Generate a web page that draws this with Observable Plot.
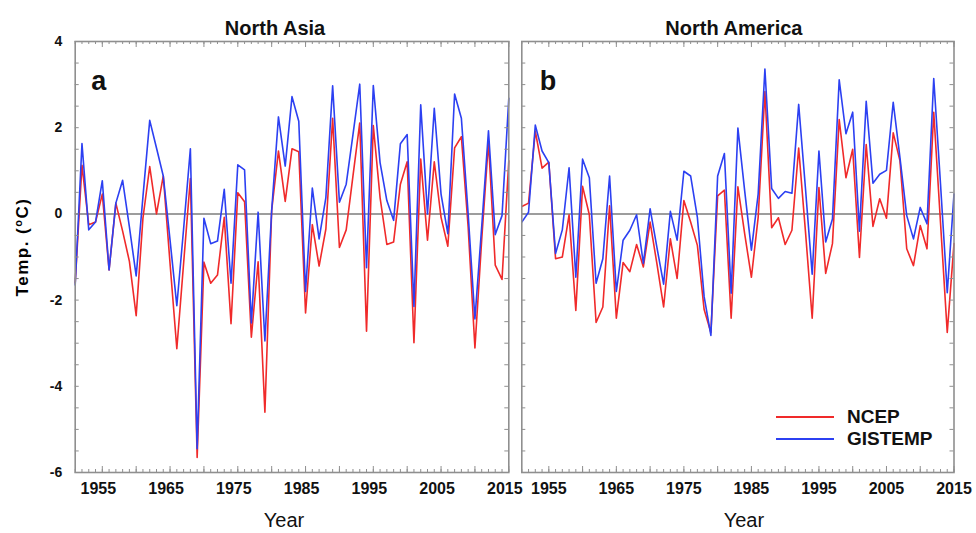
<!DOCTYPE html>
<html>
<head>
<meta charset="utf-8">
<script src="https://cdn.jsdelivr.net/npm/d3@7"></script>
<script src="https://cdn.jsdelivr.net/npm/@observablehq/plot@0.6"></script>
<style>
  html, body { margin: 0; padding: 0; background: #fff; }
  #wrap { position: relative; width: 976px; height: 533px; font-family: "Liberation Sans", Arial, sans-serif; overflow: hidden; }
  #wrap svg { position: absolute; left: 0; top: 0; }
  #ylabel { position: absolute; left: 23px; top: 247px; transform: translate(-50%, -50%) rotate(-90deg); white-space: nowrap; font-weight: bold; font-size: 17px; letter-spacing: 1.5px; color: #000; }
  #ylabel sup { font-size: 11px; vertical-align: 6px; line-height: 0; }
  #legend { position: absolute; left: 776px; top: 406px; }
  .lrow { display: flex; align-items: center; height: 22px; }
  .lline { width: 58px; height: 0; border-top: 2px solid; margin-right: 13px; }
  .ltext { font-weight: bold; font-size: 19px; line-height: 22px; color: #111; }
</style>
</head>
<body>
<div id="wrap"></div>
<script>
// ---- data ----
const years = [1951,1952,1953,1954,1955,1956,1957,1958,1959,1960,1961,1962,1963,1964,1965,1966,1967,1968,1969,1970,
  1971,1972,1973,1974,1975,1976,1977,1978,1979,1980,1981,1982,1983,1984,1985,1986,1987,1988,1989,1990,
  1991,1992,1993,1994,1995,1996,1997,1998,1999,2000,2001,2002,2003,2004,2005,2006,2007,2008,2009,2010,
  2011,2012,2013,2014,2015];

const asiaNCEP = [-1.6,1.13,-0.25,-0.19,0.46,-1.3,0.25,-0.4,-1.1,-2.36,-0.1,1.10,0.0,0.88,-1.15,-3.13,-1.15,0.82,-5.65,-1.12,
  -1.61,-1.42,-0.08,-2.55,0.49,0.28,-2.86,-1.11,-4.6,0.08,1.46,0.29,1.51,1.44,-2.30,-0.25,-1.21,-0.35,2.22,-0.78,
  -0.37,0.88,2.11,-2.72,2.05,0.38,-0.71,-0.65,0.69,1.21,-2.99,1.27,-0.61,1.21,-0.08,-0.75,1.53,1.79,-0.3,-3.11,
  -0.6,1.67,-1.19,-1.52,1.23];
const asiaGISTEMP = [-1.65,1.63,-0.37,-0.19,0.77,-1.30,0.25,0.78,-0.3,-1.44,0.4,2.17,1.53,0.88,-0.61,-2.13,-0.35,1.51,-5.45,-0.10,
  -0.69,-0.63,0.57,-1.61,1.14,1.02,-2.53,0.04,-2.95,0.08,2.25,1.11,2.72,2.15,-1.80,0.60,-0.58,0.38,2.97,0.27,
  0.69,1.84,3.01,-1.25,2.98,1.19,0.31,-0.15,1.63,1.84,-2.15,2.53,0.0,2.45,0.46,-0.46,2.78,2.22,0.0,-2.44,
  -0.3,1.93,-0.48,-0.04,2.68];

const amerNCEP = [0.17,0.25,1.92,1.06,1.20,-1.04,-1.00,-0.02,-2.24,0.64,-0.02,-2.52,-2.16,0.19,-2.42,-1.13,-1.34,-0.71,-1.23,-0.19,
  -1.15,-2.16,-0.58,-1.50,0.31,-0.19,-0.73,-2.22,-2.75,0.42,0.55,-2.42,0.63,-0.46,-1.47,-0.08,2.84,-0.32,-0.09,-0.71,
  -0.38,1.53,-0.4,-2.42,0.61,-1.38,-0.69,2.19,0.84,1.50,-1.01,1.61,-0.29,0.35,-0.10,1.88,1.23,-0.81,-1.20,-0.27,
  -0.81,2.36,-0.2,-2.75,-0.69];
const amerGISTEMP = [-0.19,0.04,2.06,1.46,1.19,-0.92,-0.37,1.07,-1.47,1.27,0.84,-1.61,-1.04,0.88,-1.80,-0.61,-0.38,-0.02,-1.15,0.12,
  -0.77,-1.63,0.06,-0.61,0.99,0.88,-0.08,-1.92,-2.82,0.88,1.40,-1.84,1.99,0.54,-0.84,0.46,3.36,0.59,0.36,0.52,
  0.48,2.54,0.6,-1.40,1.46,-0.65,-0.12,3.11,1.86,2.36,-0.40,2.61,0.71,0.92,1.01,2.59,1.30,-0.04,-0.58,0.15,
  -0.23,3.14,0.7,-1.83,0.46];

const seriesNames = ["NCEP", "GISTEMP"];
const seriesColors = ["#f02a2a", "#2c40f2"];
const panelTitles = ["North Asia", "North America"];
const panelLetters = ["a", "b"];
const xTickLabels = [1955, 1965, 1975, 1985, 1995, 2005, 2015];
const yTickLabels = [-6, -4, -2, 0, 2, 4];
const xLabel = "Year";

// ---- layout ----
const W = 976, H = 533, MT = 41, MB = 61;
const innerH = H - MT - MB;
const FONT = "Liberation Sans, Arial, sans-serif";
const frameGray = "#8f8f8f";
const yMinor = d3.range(-6, 4.001, 0.5);
const xMajor = years.filter(y => y % 5 === 0);

function rows(vals) { return years.map((year, i) => ({year, value: vals[i]})); }

function panel({ml, mr, ncep, gis, title, titleDx, letter, letterDx, showY, labelDx, yearDx}) {
  const innerW = W - ml - mr;
  const marks = [
    Plot.ruleY([0], {stroke: "#7d7d7d", strokeWidth: 1.5}),
    Plot.line(rows(ncep), {x: "year", y: "value", stroke: seriesColors[0], strokeWidth: 1.6}),
    Plot.line(rows(gis), {x: "year", y: "value", stroke: seriesColors[1], strokeWidth: 1.6}),
    // inward ticks
    Plot.tickX(years, {x: d => d, insetTop: innerH - 3, stroke: frameGray, strokeWidth: 1}),
    Plot.tickX(years, {x: d => d, insetBottom: innerH - 3, stroke: frameGray, strokeWidth: 1}),
    Plot.tickX(xMajor, {x: d => d, insetTop: innerH - 6, stroke: frameGray, strokeWidth: 1}),
    Plot.tickX(xMajor, {x: d => d, insetBottom: innerH - 6, stroke: frameGray, strokeWidth: 1}),
    Plot.tickY(yMinor, {y: d => d, insetRight: innerW - 4, stroke: frameGray, strokeWidth: 1}),
    Plot.tickY(yMinor, {y: d => d, insetLeft: innerW - 4, stroke: frameGray, strokeWidth: 1}),
    Plot.frame({stroke: frameGray, strokeWidth: 1.6}),
    // x tick labels
    Plot.text(xTickLabels, {x: d => d, frameAnchor: "bottom", dy: 21, dx: labelDx, text: d => String(d),
      fontWeight: "bold", fontSize: 16, fill: "#111"}),
    // x axis label
    Plot.text([xLabel], {frameAnchor: "bottom", dy: 54, dx: yearDx, text: d => d, fontSize: 20, fill: "#111"}),
    // title
    Plot.text([title], {frameAnchor: "top", dy: -21, dx: titleDx, text: d => d, fontWeight: "bold", fontSize: 20, fill: "#111"}),
    // panel letter
    Plot.text([letter], {frameAnchor: "top-left", dx: letterDx, dy: 29, text: d => d, textAnchor: "start",
      fontWeight: "bold", fontSize: 27, fill: "#111"})
  ];
  if (showY) {
    marks.push(Plot.text(yTickLabels, {y: d => d, frameAnchor: "left", dx: -13, textAnchor: "end", text: d => String(d),
      fontWeight: "bold", fontSize: 14, fill: "#111"}));
  }
  return Plot.plot({
    width: W, height: H, marginLeft: ml, marginRight: mr, marginTop: MT, marginBottom: MB,
    style: {background: "transparent", overflow: "visible", fontFamily: FONT, color: "#111"},
    x: {domain: [years[0], years[years.length - 1]], axis: null},
    y: {domain: [-6, 4], axis: null},
    marks
  });
}

const wrap = document.getElementById("wrap");
wrap.appendChild(panel({ml: 74.7, mr: W - 508.3, ncep: asiaNCEP, gis: asiaGISTEMP, title: panelTitles[0], titleDx: -17,
  letter: panelLetters[0], letterDx: 16, showY: true, labelDx: -4, yearDx: -8}));
wrap.appendChild(panel({ml: 521.3, mr: W - 953.5, ncep: amerNCEP, gis: amerGISTEMP, title: panelTitles[1], titleDx: -4,
  letter: panelLetters[1], letterDx: 18, showY: false, labelDx: 0, yearDx: 6}));

// y-axis label
const yl = document.createElement("div");
yl.id = "ylabel";
yl.innerHTML = "Temp. (<sup>o</sup>C)";
wrap.appendChild(yl);

// legend
const lg = document.createElement("div");
lg.id = "legend";
seriesNames.forEach((name, i) => {
  const r = document.createElement("div");
  r.className = "lrow";
  const l = document.createElement("span");
  l.className = "lline";
  l.style.borderTopColor = seriesColors[i];
  const t = document.createElement("span");
  t.className = "ltext";
  t.textContent = name;
  r.appendChild(l); r.appendChild(t);
  lg.appendChild(r);
});
wrap.appendChild(lg);
</script>
</body>
</html>
